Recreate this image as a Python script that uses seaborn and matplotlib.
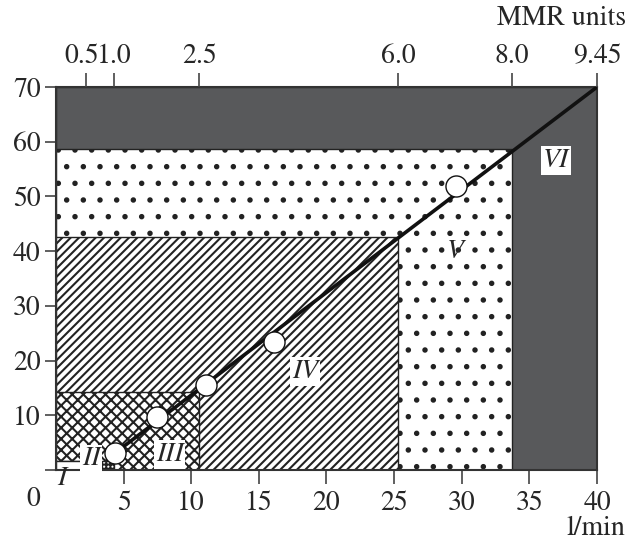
import matplotlib
matplotlib.use("Agg")
import matplotlib.pyplot as plt
import matplotlib.transforms as mtransforms
import seaborn as sns
import pandas as pd

# zonas (limites em l/min e altura)
zonas = ["VI", "V", "IV", "III", "II", "I"]
zona_x = [40.0, 33.7, 25.3, 10.6, 4.3, 2.2]
zona_y = [70.0, 58.6, 42.5, 14.2, 1.6, 1.6]

# pontos medidos
pontos_x = [4.36, 7.46, 11.1, 16.1, 29.6]
pontos_y = [3.1, 9.7, 15.5, 23.4, 52.0]

# reta
reta_x = [4.36, 40.0]
reta_y = [3.1, 70.0]

# eixo superior (MMR units)
mmr_pos = [2.2, 4.3, 10.6, 25.3, 33.7, 40.0]
mmr_lab = ["0.5", "1.0", "2.5", "6.0", "8.0", "9.45"]

x_ticks = [5, 10, 15, 20, 25, 30, 35, 40]
y_ticks = [0, 10, 20, 30, 40, 50, 60, 70]

sns.set_style("ticks")
plt.rcParams["font.family"] = ["STIXGeneral", "Liberation Serif", "DejaVu Serif"]
plt.rcParams["mathtext.fontset"] = "stix"
plt.rcParams["hatch.linewidth"] = 1.5

fig = plt.figure(figsize=(6.32, 5.44), dpi=100)
ax = fig.add_axes([0.0886, 0.136, 0.856, 0.704])

estilos = {
    "VI": dict(color="#58595b", hatch=None),
    "V": dict(color="white", hatch="."),
    "IV": dict(color="white", hatch="////"),
    "III": dict(color="white", hatch="xxx"),
    "II": dict(color="white", hatch="++++"),
    "I": dict(color="white", hatch=None),
}
for nome, w, h in zip(zonas, zona_x, zona_y):
    st = estilos[nome]
    ax.bar(0, h, width=w, align="edge", color=st["color"], hatch=st["hatch"],
           edgecolor="#222222", linewidth=1.0, zorder=1)

df_reta = pd.DataFrame({"x": reta_x, "y": reta_y})
sns.lineplot(data=df_reta, x="x", y="y", color="#111111", linewidth=2.6, ax=ax, zorder=3)
df_pts = pd.DataFrame({"x": pontos_x, "y": pontos_y})
sns.scatterplot(data=df_pts, x="x", y="y", s=230, color="white", edgecolor="#111111",
                linewidth=1.0, ax=ax, zorder=4)

ax.set_xlim(0, 40)
ax.set_ylim(0, 70)
ax.set_xlabel("")
ax.set_ylabel("")
ax.set_xticks(x_ticks)
ax.set_xticklabels([str(t) for t in x_ticks])
ax.set_yticks(y_ticks)
ax.set_yticklabels([""] + [str(t) for t in y_ticks[1:]])
ax.tick_params(axis="x", length=10, width=1.2, labelsize=20, pad=5, color="#444444")
ax.tick_params(axis="y", length=8, width=1.2, labelsize=20, pad=3, color="#444444")
for s in ax.spines.values():
    s.set_linewidth(1.5)
    s.set_color("#333333")

top = ax.twiny()
top.set_xlim(0, 40)
top.set_xticks(mmr_pos)
top.set_xticklabels(mmr_lab)
top.tick_params(axis="x", length=10, width=1.2, labelsize=20, pad=3, color="#444444")
for s in top.spines.values():
    s.set_visible(False)
# afasta um pouco o rótulo 0.5 do 1.0
desloc = mtransforms.ScaledTranslation(-3 / 72, 0, fig.dpi_scale_trans)
lab0 = top.get_xticklabels()[0]
lab0.set_transform(lab0.get_transform() + desloc)

fs = 20
caixa = dict(facecolor="white", edgecolor="none", pad=1.5)
ax.text(2.6, 2.0, "II", fontsize=fs, style="italic", ha="center", va="center", bbox=caixa, zorder=5)
ax.text(8.4, 2.8, "III", fontsize=fs, style="italic", ha="center", va="center", bbox=caixa, zorder=5)
ax.text(18.4, 18.0, "IV", fontsize=fs, style="italic", ha="center", va="center", bbox=caixa, zorder=5)
ax.text(29.5, 40.0, "V", fontsize=fs, style="italic", ha="center", va="center", zorder=5)
ax.text(37.0, 56.6, "VI", fontsize=fs, style="italic", ha="center", va="center", bbox=caixa, zorder=5)
ax.text(0.4, -1.6, "I", fontsize=fs, style="italic", ha="center", va="center", clip_on=False, zorder=5)
ax.text(-1.7, -0.078, "0", fontsize=fs, ha="center", va="center",
        transform=ax.get_xaxis_transform(), clip_on=False)

fig.text(0.99, 0.967, "MMR units", fontsize=fs, ha="right", va="center")
fig.text(0.99, 0.029, "l/min", fontsize=fs, ha="right", va="center")

fig.savefig("out.png", dpi=100)
